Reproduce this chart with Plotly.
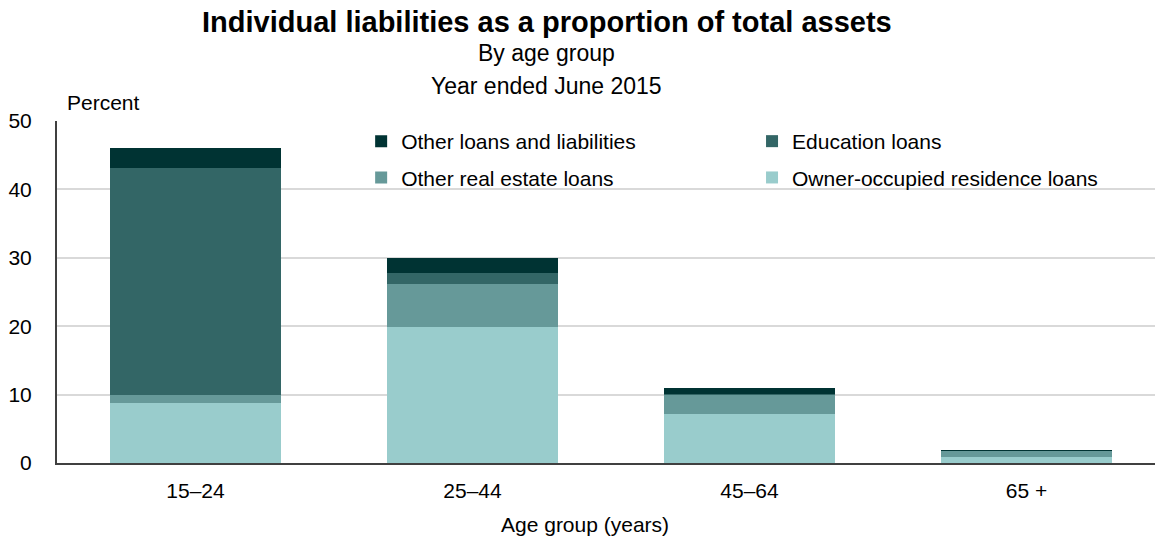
import plotly.graph_objects as go

# Age groups and the share of total assets held as each liability type (%)
age_groups = ["15–24", "25–44", "45–64", "65 +"]
owner_occupied = [8.8, 19.9, 7.1, 0.9]
other_real_estate = [1.2, 6.2, 2.9, 0.9]
education = [33.1, 1.75, 0.1, 0.0]
other_loans = [2.9, 2.05, 0.9, 0.05]

y_ticks = [0, 10, 20, 30, 40, 50]

FONT = "Liberation Sans, Arial, sans-serif"

# (name, values, colour, legend column, row within the column)
series = [
    ("Owner-occupied residence loans", owner_occupied, "#99CCCC", "legend2", 2),
    ("Other real estate loans", other_real_estate, "#669999", "legend", 2),
    ("Education loans", education, "#336666", "legend2", 1),
    ("Other loans and liabilities", other_loans, "#003333", "legend", 1),
]

fig = go.Figure()
for name, vals, color, leg, rank in series:
    fig.add_trace(go.Bar(
        x=age_groups, y=vals, name=name,
        marker=dict(color=color, line=dict(width=0)),
        width=0.62, legend=leg, legendgroup=name, legendrank=rank,
    ))

legend_common = dict(
    orientation="v", traceorder="grouped", tracegroupgap=6,
    font=dict(family=FONT, size=21, color="#000000"),
    bgcolor="rgba(0,0,0,0)", itemwidth=30, xanchor="left", yanchor="top",
)

fig.update_layout(
    width=1155, height=539,
    margin=dict(l=57, r=0, t=121, b=76),
    paper_bgcolor="white", plot_bgcolor="white",
    barmode="stack", bargap=0.38,
    font=dict(family=FONT, size=21, color="#000000"),
    legend=dict(x=0.277, y=1.0, **legend_common),
    legend2=dict(x=0.633, y=1.0, **legend_common),
    xaxis=dict(
        range=[-0.5, 3.464], showgrid=False, ticks="",
        showline=True, linecolor="#404040", linewidth=2,
        tickfont=dict(family=FONT, size=21), ticklabelstandoff=8,
    ),
    yaxis=dict(
        range=[0, 50], tickvals=y_ticks, ticks="",
        showgrid=True, gridcolor="#D9D9D9", gridwidth=2,
        showline=True, linecolor="#404040", linewidth=2,
        zeroline=False,
        tickfont=dict(family=FONT, size=21), ticklabelstandoff=19,
    ),
    annotations=[
        dict(text="<b>Individual liabilities as a proportion of total assets</b>",
             xref="paper", yref="paper", x=0.446, y=1.0, yshift=99,
             xanchor="center", yanchor="middle", showarrow=False,
             font=dict(family=FONT, size=29)),
        dict(text="By age group", xref="paper", yref="paper",
             x=0.446, y=1.0, yshift=68, xanchor="center", yanchor="middle",
             showarrow=False, font=dict(family=FONT, size=23)),
        dict(text="Year ended June 2015", xref="paper", yref="paper",
             x=0.446, y=1.0, yshift=35, xanchor="center", yanchor="middle",
             showarrow=False, font=dict(family=FONT, size=23)),
        dict(text="Percent", xref="paper", yref="paper", x=0.0, y=1.0,
             xshift=8, yshift=19, xanchor="left", yanchor="middle",
             showarrow=False, font=dict(family=FONT, size=21)),
        dict(text="Age group (years)", xref="paper", yref="paper",
             x=0.481, y=0.0, yshift=-61, xanchor="center", yanchor="middle",
             showarrow=False, font=dict(family=FONT, size=21)),
    ],
)

fig.write_html("out.html")
